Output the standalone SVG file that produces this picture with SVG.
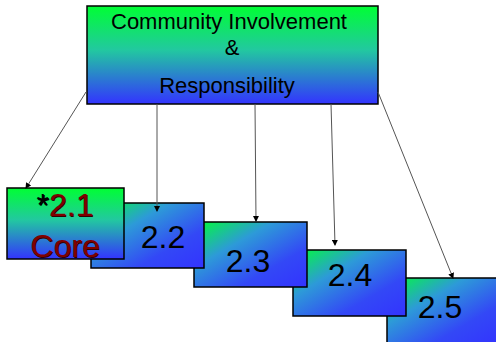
<svg xmlns="http://www.w3.org/2000/svg" width="496" height="342" viewBox="0 0 496 342">
<style>
.box{stroke:#000;stroke-width:1.5}
.t{font-family:"Liberation Sans",Arial,sans-serif;fill:#000;text-anchor:middle}
.big{font-size:32px}
.red{fill:#800000}
.sh{fill:#300000}
.c{stroke:#555;stroke-width:1;fill:none;marker-end:url(#ah)}
</style>
<defs>
<linearGradient id="gv" x1="0" y1="0" x2="0" y2="1">
<stop offset="0" stop-color="#00ff33"/>
<stop offset="0.45" stop-color="#22c8a0"/>
<stop offset="1" stop-color="#3333ff"/>
</linearGradient>
<linearGradient id="gd" x1="0" y1="0" x2="1" y2="1">
<stop offset="0" stop-color="#00ff33"/>
<stop offset="0.35" stop-color="#2d9ad8"/>
<stop offset="0.7" stop-color="#3348f6"/>
<stop offset="1" stop-color="#3333ff"/>
</linearGradient>
<marker id="ah" markerWidth="6" markerHeight="6" refX="5" refY="3" orient="auto" markerUnits="userSpaceOnUse">
<path d="M0,0 L6,3 L0,6 Z" fill="#000"/>
</marker>
</defs>
<g id="top">
<rect class="box" x="87" y="6" width="291" height="98" fill="url(#gv)"/>
<text class="t" x="229" y="29" font-size="22">Community Involvement</text>
<text class="t" x="232" y="55" font-size="22">&amp;</text>
<text class="t" x="227" y="93" font-size="22">Responsibility</text>
</g>
<g id="n25">
<rect class="box" x="387" y="278" width="113" height="66" fill="url(#gd)"/>
<text class="t big" x="440" y="318">2.5</text>
</g>
<g id="n24">
<rect class="box" x="293" y="250" width="113" height="66" fill="url(#gd)"/>
<text class="t big" x="350" y="286">2.4</text>
</g>
<g id="n23">
<rect class="box" x="194" y="222" width="113" height="65" fill="url(#gd)"/>
<text class="t big" x="248" y="272">2.3</text>
</g>
<g id="n22">
<rect class="box" x="91" y="203" width="113" height="65" fill="url(#gd)"/>
<text class="t big" x="163" y="248">2.2</text>
</g>
<g id="n21">
<rect class="box" x="7" y="188" width="117" height="71" fill="url(#gv)"/>
<text class="t big sh" x="66" y="217"><tspan fill="#000">*</tspan>2.1</text>
<text class="t big red" x="65" y="216"><tspan fill="#000">*</tspan>2.1</text>
<text class="t big sh" x="66" y="258">Core</text>
<text class="t big red" x="65" y="257">Core</text>
</g>
<g id="connectors">
<line class="c" x1="86" y1="92" x2="26" y2="188"/>
<line class="c" x1="157" y1="104" x2="157" y2="211"/>
<line class="c" x1="255" y1="104" x2="256" y2="221"/>
<line class="c" x1="331" y1="104" x2="335" y2="245"/>
<line class="c" x1="378" y1="92" x2="453" y2="278"/>
</g>
</svg>
